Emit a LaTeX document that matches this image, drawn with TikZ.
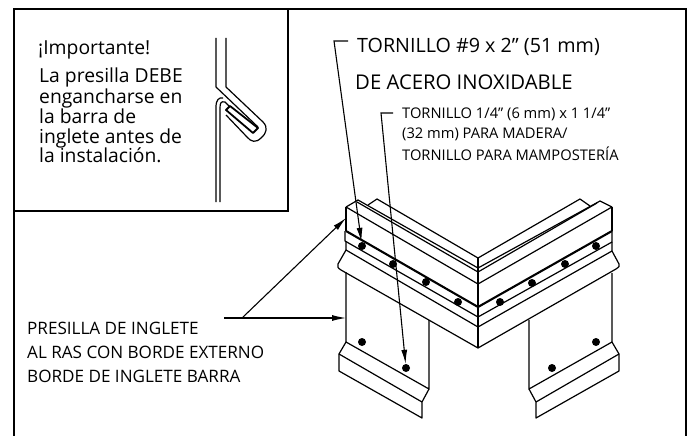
\documentclass[tikz,border=0pt]{standalone}
\usepackage{fontspec}
\setmainfont{Open Sans}
\usetikzlibrary{arrows.meta}
\tikzset{
	sheet/.style = {line width = 1.2pt, line join = round},
	heavy/.style = {line width = 2.1pt},
	frameline/.style = {line width = 1.4pt},
	clipline/.style = {line width = 1.2pt, line join = round},
	screw/.style = {circle, fill = black, inner sep = 0pt, minimum width = 7pt, minimum height = 8pt},
	leader/.style = {line width = 1.1pt, -{Latex[length = 14pt, width = 6pt]}},
	bigtext/.style = {anchor = base west, inner sep = 0pt, font = \fontsize{19.7}{22}\selectfont},
	widetext/.style = {anchor = base west, inner sep = 0pt, font = \fontsize{20.3}{22}\selectfont},
	midtext/.style = {anchor = base west, inner sep = 0pt, font = \fontsize{19.3}{20}\selectfont},
	lowtext/.style = {anchor = base west, inner sep = 0pt, font = \fontsize{17.1}{19}\selectfont},
	smalltext/.style = {anchor = base west, inner sep = 0pt, font = \fontsize{14.7}{17}\selectfont}
}
\begin{document}
\begin{tikzpicture}[x = 1pt, y = -1pt]
	\useasboundingbox (0,0) rectangle (691,436);
	% frame
	\draw[frameline] (14,436) -- (14,9) -- (686,9) -- (686,436);
	\draw[frameline] (288,9) -- (288,211) -- (14,211);
	% texts
	\node[midtext] (important) at (38,55) {¡Importante!};
	\node[midtext] (line1) at (39,83) {La presilla DEBE};
	\node[midtext] (line2) at (39,103) {engancharse en};
	\node[midtext] (line3) at (39,123) {la barra de};
	\node[midtext] (line4) at (39,143) {inglete antes de};
	\node[midtext] (line5) at (39,162) {la instalación.};
	\node[bigtext] (screwa1) at (357,53) {TORNILLO \#9 x 2" (51 mm)};
	\node[widetext] (screwa2) at (355,89) {DE ACERO INOXIDABLE};
	\node[smalltext] (screwb1) at (402,118) {TORNILLO 1/4" (6 mm) x 1 1/4"};
	\node[smalltext] (screwb2) at (402,138) {(32 mm) PARA MADERA/};
	\node[smalltext] (screwb3) at (402,160) {TORNILLO PARA MAMPOSTERÍA};
	\node[lowtext] (clipa) at (27,334) {PRESILLA DE INGLETE};
	\node[lowtext] (clipb) at (27,358) {AL RAS CON BORDE EXTERNO};
	\node[lowtext] (clipc) at (27,382) {BORDE DE INGLETE BARRA};
	% clip detail
	\draw[clipline] (226,38) -- (226,87) -- (263,122) .. controls (268,127) and (267,133) .. (261,138) .. controls (256,143) and (251,142) .. (247,137) -- (226,115);
	\draw[clipline] (216,38) -- (216,87) -- (258,127);
	\draw[clipline] (216,202) -- (216,107) .. controls (216,100) and (219,97) .. (223,98);
	\draw[clipline] (220,202) -- (220,108) .. controls (220,103) and (221,101) .. (225,102) -- (230,107);
	\draw[line width = 1.8pt, line join = round] (226,110) -- (230,106) -- (258,128) -- (253,133) -- cycle;
	% back of the bar
	\draw[sheet] (368,205) -- (377,199) -- (478,258) -- (580,199) -- (590,206);
	\draw[sheet] (346,207) -- (358,200) -- (478,268) -- (600,201) -- (612,207);
	\draw[sheet] (357,202) -- (478,272) -- (597,203);
	\draw[sheet] (346,207) -- (478,284) -- (612,207);
	\draw[sheet] (346,207) -- (346,231);
	\draw[sheet] (612,207) -- (612,231);
	\draw[heavy] (346,231) -- (478,307) -- (612,231);
	\draw[sheet] (345,231) -- (345,241) -- (478,317) -- (612,242) -- (612,231);
	\draw[sheet] (346,241) -- (346,250) -- (478,327) -- (612,251) -- (612,242);
	% flange of the bar
	\draw[sheet] (346,250) -- (338,264) .. controls (337,267) and (338,268) .. (341,270) -- (478,348) -- (616,269) .. controls (619,267) and (620,266) .. (619,264) -- (612,251);
	\draw[sheet] (478,258) -- (478,348);
	% left leg
	\draw[sheet] (346,272) -- (346,342) -- (429,389) -- (429,320);
	\draw[sheet] (346,342) -- (339,354) -- (339,371) -- (422,418) -- (422,402) -- (429,389);
	\draw[sheet] (339,354) -- (422,402);
	% right leg
	\draw[sheet] (612,273) -- (612,342) -- (529,389) -- (529,320);
	\draw[sheet] (612,342) -- (619,354) -- (619,371) -- (536,418) -- (536,402) -- (529,389);
	\draw[sheet] (619,354) -- (536,402);
	% screws
	\node[screw] (s1) at (362,246) {};
	\node[screw] (s2) at (393,264) {};
	\node[screw] (s3) at (426,282) {};
	\node[screw] (s4) at (458,302) {};
	\node[screw] (s5) at (500,302) {};
	\node[screw] (s6) at (532,283) {};
	\node[screw] (s7) at (565,264) {};
	\node[screw] (s8) at (596,246) {};
	\node[screw] (s9) at (362,342) {};
	\node[screw] (s10) at (406,368) {};
	\node[screw] (s11) at (552,368) {};
	\node[screw] (s12) at (596,342) {};
	% leaders
	\coordinate (bendA) at (334,41);
	\coordinate (startA) at (348,41);
	\coordinate (bendB) at (381,113);
	\coordinate (startB) at (393,113);
	\coordinate (clipstart) at (224,318);
	\coordinate (clipfork) at (242,318);
	\coordinate (cliptipA) at (346,218);
	\coordinate (cliptipB) at (346,318);
	\draw[leader] (startA) -- (bendA) -- (s1);
	\draw[leader] (startB) -- (bendB) -- (s10);
	\draw[leader] (clipstart) -- (cliptipB);
	\draw[leader] (clipfork) -- (cliptipA);
\end{tikzpicture}
\end{document}
